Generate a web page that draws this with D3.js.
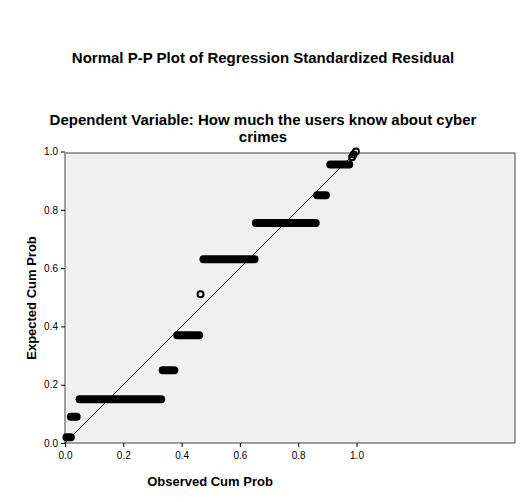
<!DOCTYPE html><html><head><script src="https://cdn.jsdelivr.net/npm/d3@7"></script>
<style>body{margin:0;background:#fff}</style></head><body><script>
const bandExpected=[0.02,0.09,0.15,0.25,0.37,0.63,0.755,0.85,0.955];
const bandObsStart=[0.005,0.02,0.05,0.335,0.385,0.475,0.655,0.865,0.91];
const bandObsEnd=[0.02,0.04,0.33,0.375,0.46,0.65,0.86,0.895,0.975];
const ptObs=[0.465,0.985,0.99,0.998];
const ptExp=[0.51,0.98,0.99,1.0];
const ticks=[0,0.2,0.4,0.6,0.8,1.0];
const W=526,H=502,L=65,T=153,B=443,R=515;
const svg=d3.select("body").append("svg").attr("width",W).attr("height",H).style("font-family","Arial, 'Liberation Sans'");
const x=d3.scaleLinear().domain([0,1]).range([L,356.5]);
const y=d3.scaleLinear().domain([0,1]).range([B,151.5]);
svg.append("rect").attr("x",L).attr("y",T).attr("width",R-L).attr("height",B-T).attr("fill","#f0f0f0").attr("stroke","#444");
svg.append("line").attr("x1",x(0)).attr("y1",y(0)).attr("x2",x(1)).attr("y2",y(1)).attr("stroke","#000").attr("stroke-width",1);
const g=svg.append("g");
bandExpected.forEach((e,i)=>g.append("line").attr("x1",x(bandObsStart[i])).attr("x2",x(bandObsEnd[i])).attr("y1",y(e)).attr("y2",y(e)).attr("stroke","#000").attr("stroke-width",8).attr("stroke-linecap","round"));
ptObs.forEach((o,i)=>g.append("circle").attr("cx",x(o)).attr("cy",y(ptExp[i])).attr("r",3).attr("fill","none").attr("stroke","#000").attr("stroke-width",2));
const ax=svg.append("g").attr("transform",`translate(0,${B})`).call(d3.axisBottom(x).tickValues(ticks).tickFormat(d3.format(".1f")).tickSize(4));
const ay=svg.append("g").attr("transform",`translate(${L},0)`).call(d3.axisLeft(y).tickValues(ticks).tickFormat(d3.format(".1f")).tickSize(4));
[ax,ay].forEach(a=>{a.select(".domain").remove();a.selectAll("text").style("font-size","10px").attr("fill","#000");a.selectAll("line").attr("stroke","#000")});
ax.selectAll("text").attr("dy","0.9em");
const t=(s,xx,yy,sz)=>svg.append("text").attr("x",xx).attr("y",yy).attr("text-anchor","middle").style("font-size",sz+"px").style("font-weight","bold").text(s);
t("Normal P-P Plot of Regression Standardized Residual",263,63,15);
t("Dependent Variable: How much the users know about cyber",263,125,15);
t("crimes",263,142,15);
t("Observed Cum Prob",210,486,13);
svg.append("text").attr("transform","translate(36,298) rotate(-90)").attr("text-anchor","middle").style("font-size","13px").style("font-weight","bold").text("Expected Cum Prob");
</script></body></html>
